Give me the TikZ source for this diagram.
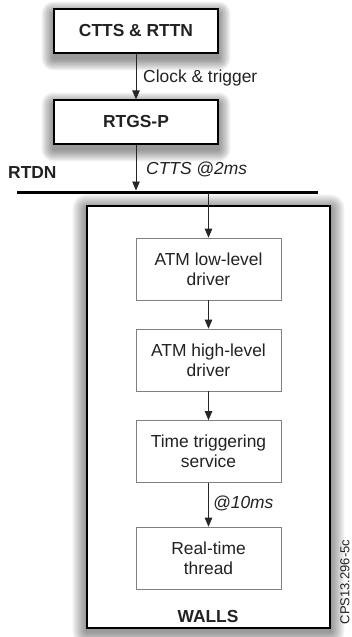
\documentclass[tikz,border=0pt]{standalone}
\usepackage{fontspec}
\setmainfont{Liberation Sans}
\usetikzlibrary{arrows.meta}
\definecolor{txt}{HTML}{222222}
\newcommand{\softshadow}[3]{%
  \foreach \k in {0,...,13}{%
    \pgfmathsetmacro\s{(14-\k)*#3/14}%
    \fill[black,opacity=0.035,rounded corners=\s pt]
      ([xshift=-\s pt,yshift=-#2-\s pt]#1.south west) rectangle
      ([xshift=\s pt,yshift=-#2+\s pt]#1.north east);
  }}
\tikzset{
  base/.style={font=\fontsize{17.4}{20}\selectfont, text=txt, align=center, inner sep=0pt},
  topbox/.style={base, draw=black, line width=1.2pt, fill=white, minimum width=164pt, minimum height=44pt, font=\fontsize{17.4}{20}\selectfont\bfseries},
  wallbox/.style={draw=black, line width=1.2pt, fill=white, minimum width=243pt, minimum height=422pt, inner sep=0pt},
  inbox/.style={base, draw=black!50, line width=0.7pt, fill=white, minimum width=145pt, minimum height=62pt},
  arr/.style={draw=black!85, line width=0.7pt, -{Triangle[length=9pt,width=7.5pt]}},
  lab/.style={base, anchor=west},
}
\begin{document}
\begin{tikzpicture}[x=1pt,y=-1pt]
\useasboundingbox (0,0) rectangle (351,637);
% top boxes (invisible placeholders for the shadows)
\node[topbox, draw=none, fill=none, text opacity=0] (ctts) at (136,31) {CTTS \& RTTN};
\node[topbox, draw=none, fill=none, text opacity=0] (rtgs) at (136,122) {RTGS-P};
\softshadow{ctts}{5pt}{12}
\softshadow{rtgs}{5pt}{12}
\node[topbox] (ctts2) at (136,31) {CTTS \& RTTN};
\node[topbox] (rtgs2) at (136,122) {RTGS-P};
\draw[arr] (ctts2.south) -- (rtgs2.north);
\node[lab] (clk) at (143,78) {Clock \& trigger};
% bus
\coordinate (busL) at (17,192);
\coordinate (busR) at (318,192);
\draw[line width=3pt] (busL) -- (busR);
\coordinate (busin) at (136,190.5);
\draw[arr] (rtgs2.south) -- (busin);
\node[base, font=\fontsize{17.4}{20}\selectfont\bfseries, anchor=west] (rtdn) at (8,173) {RTDN};
\node[lab, font=\fontsize{17.4}{20}\selectfont\itshape] (ctlab) at (146,169) {CTTS @2ms};
% walls
\node[wallbox, draw=none, fill=none] (walls) at (208.5,417) {};
\softshadow{walls}{3pt}{14}
\node[wallbox] (walls2) at (208.5,417) {};
\node[base, font=\fontsize{17.4}{20}\selectfont\bfseries] (wlab) at (208,617) {WALLS};
% inner boxes
\node[inbox] (low) at (208.5,269) {ATM low-level\\driver};
\node[inbox] (high) at (208.5,360) {ATM high-level\\driver};
\node[inbox] (tts) at (208.5,451.5) {Time triggering\\service};
\node[inbox] (rtt) at (208.5,558) {Real-time\\thread};
\coordinate (busout) at (208.5,193);
\draw[arr] (busout) -- (low.north);
\draw[arr] (low.south) -- (high.north);
\draw[arr] (high.south) -- (tts.north);
\draw[arr] (tts.south) -- (rtt.north);
\node[lab, font=\fontsize{17.4}{20}\selectfont\itshape] (ten) at (213,503) {@10ms};
\node[base, font=\fontsize{13}{15}\selectfont, rotate=90] (cps) at (345,582) {CPS13.296-5c};
\end{tikzpicture}
\end{document}
